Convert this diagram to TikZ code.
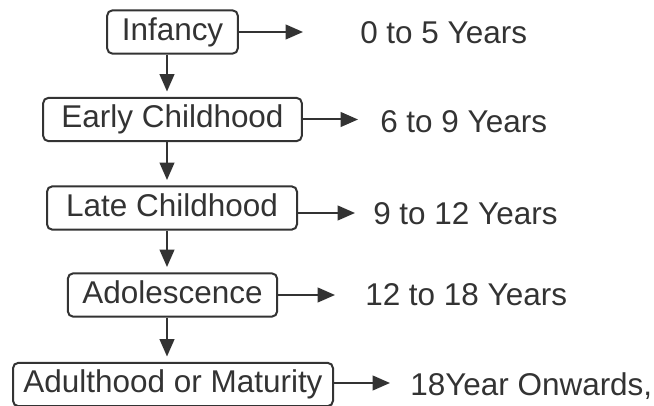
\documentclass[tikz,border=0pt]{standalone}
\usepackage{fontspec}
\setmainfont{Liberation Sans}
\usepackage{tikz}
\usetikzlibrary{arrows.meta, positioning}
\definecolor{inkgray}{HTML}{333333}

\begin{document}
\begin{tikzpicture}[
  x=0.75pt, y=-0.75pt,
  stage/.style={
    rectangle, rounded corners=4pt,
    draw=inkgray, line width=1.5pt, text=inkgray,
    inner xsep=2pt, minimum height=32.5pt, minimum width=#1,
    text height=17.2pt, text depth=5pt,
    font=\fontsize{23.6}{28}\selectfont},
  age/.style={
    anchor=west, inner sep=0pt, text=inkgray,
    text height=16.9pt, text depth=0pt,
    font=\fontsize{23.6}{28}\selectfont},
  flow/.style={-{Triangle[length=13pt, width=11pt]}, line width=1.5pt, inkgray},
]
  \useasboundingbox (0,0) rectangle (654,406);

  \node[stage=98pt] (inf) at (172.5, 32) {Infancy};
  \node[stage=194pt] (early) at (172.5, 119.5) {Early Childhood};
  \node[stage=187.5pt] (late) at (172, 208) {Late Childhood};
  \node[stage=157pt] (adol) at (172.5, 295) {Adolescence};
  \node[stage=240pt] (adult) at (173, 384.5) {Adulthood or Maturity};

  \node[age] (y1) at (360, 32) {0 to 5 Years};
  \node[age] (y2) at (380, 121) {6 to 9 Years};
  \node[age] (y3) at (373, 213) {9 to 12 Years};
  \node[age] (y4) at (365, 294) {12 to 18 Years};
  \node[age] (y5) at (410, 384) {18Year Onwards,};

  % arrow ends
  \coordinate (spine) at (167, 0);
  \coordinate (e1) at (303, 32);
  \coordinate (e2) at (358, 120);
  \coordinate (e3) at (355, 213);
  \coordinate (e4) at (335, 295);
  \coordinate (e5) at (390, 383);

  % down the stages
  \draw[flow, shorten >=4pt] (inf.south -| spine) -- (early.north -| spine);
  \draw[flow, shorten >=4pt] (early.south -| spine) -- (late.north -| spine);
  \draw[flow, shorten >=4pt] (late.south -| spine) -- (adol.north -| spine);
  \draw[flow, shorten >=4pt] (adol.south -| spine) -- (adult.north -| spine);

  % to the ages
  \draw[flow] (inf.east) -- (inf.east -| e1);
  \draw[flow] (early.east) -- (early.east -| e2);
  \draw[flow] (late.east |- e3) -- (e3);
  \draw[flow] (adol.east) -- (adol.east -| e4);
  \draw[flow] (adult.east |- e5) -- (e5);
\end{tikzpicture}
\end{document}
